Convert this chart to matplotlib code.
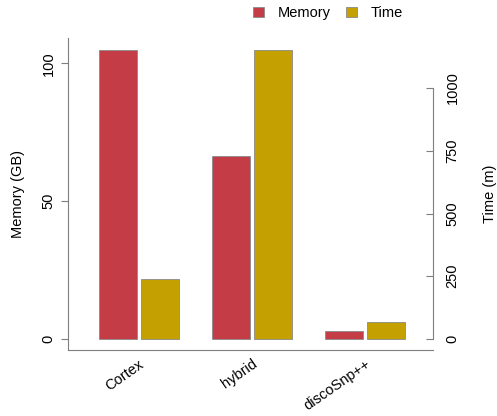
import numpy as np
import matplotlib
matplotlib.use("Agg")
import matplotlib.pyplot as plt
from matplotlib.patches import Patch

plt.rcParams["font.family"] = ["Liberation Sans", "DejaVu Sans"]

tools = ["Cortex", "hybrid", "discoSnp++"]
memory_gb = [105.0, 66.4, 3.0]
time_min = [239, 1152, 66]

mem_color = "#C43C45"
time_color = "#C4A000"
axis_gray = "#7f7f7f"

fig = plt.figure(figsize=(4.97, 4.16), dpi=100)
ax = fig.add_axes([68 / 497, 66 / 416, (433 - 68) / 497, (350 - 38) / 416])
ax2 = ax.twinx()

groups = np.arange(len(tools)) * 3.0
off = 0.557
ax.bar(groups - off, memory_gb, width=1.0, color=mem_color,
       edgecolor="#8a8a8a", linewidth=0.6)
ax2.bar(groups + off, time_min, width=1.0, color=time_color,
        edgecolor="#8a8a8a", linewidth=0.6)

ax.set_xlim(-1.875, 7.806)
ax.set_ylim(-4.0, 109.2)
# time axis scaled so 0 lines up and the tallest bars share a top
px_gb = 2.757
px_min = 0.251
ax2.set_ylim(-4.0 * px_gb / px_min, 109.2 * px_gb / px_min)

for s in ["top", "right"]:
    ax.spines[s].set_visible(False)
for s in ["top", "left", "bottom"]:
    ax2.spines[s].set_visible(False)
ax.spines["left"].set_color(axis_gray)
ax.spines["bottom"].set_color(axis_gray)
ax2.spines["right"].set_color(axis_gray)
ax2.spines["right"].set_bounds(0, 1000)

ax.set_yticks([0, 50, 100])
ax.set_yticklabels(["0", "50", "100"], rotation=90, va="center")
ax.tick_params(axis="y", length=5, color=axis_gray, labelsize=10.5, pad=4)

ax2.set_yticks([0, 250, 500, 750, 1000])
ax2.set_yticklabels(["0", "250", "500", "750", "1000"], rotation=90, va="center")
ax2.tick_params(axis="y", direction="in", length=5, color=axis_gray,
                labelsize=10.5, pad=9)

ax.set_xticks(groups)
ax.set_xticklabels(tools, rotation=35, ha="right", rotation_mode="anchor",
                   fontsize=10.5)
ax.tick_params(axis="x", length=0, pad=5)

ax.set_ylabel("Memory (GB)", fontsize=10.5, labelpad=12)
ax2.set_ylabel("Time (m)", fontsize=10.5, labelpad=17)

handles = [Patch(facecolor=mem_color, edgecolor="#8a8a8a", linewidth=0.6),
           Patch(facecolor=time_color, edgecolor="#8a8a8a", linewidth=0.6)]
fig.legend(handles, ["Memory", "Time"], ncol=2, frameon=False, loc="center",
           bbox_to_anchor=(328 / 497, 1 - 13 / 416), fontsize=10.5,
           handlelength=0.75, handleheight=0.75, handletextpad=0.9,
           columnspacing=1.1)

fig.savefig("out.png", dpi=100)
